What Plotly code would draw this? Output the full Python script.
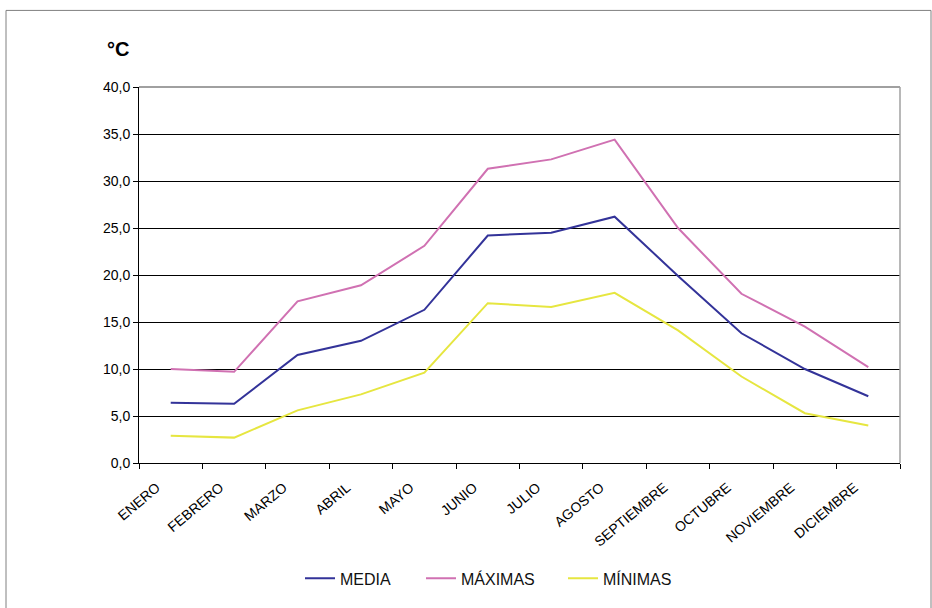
import plotly.graph_objects as go

meses = ["ENERO", "FEBRERO", "MARZO", "ABRIL", "MAYO", "JUNIO", "JULIO",
         "AGOSTO", "SEPTIEMBRE", "OCTUBRE", "NOVIEMBRE", "DICIEMBRE"]
media = [6.4, 6.3, 11.5, 13.0, 16.3, 24.2, 24.5, 26.2, 19.9, 13.8, 10.0, 7.1]
maximas = [10.0, 9.7, 17.2, 18.9, 23.1, 31.3, 32.3, 34.4, 25.0, 18.0, 14.5, 10.2]
minimas = [2.9, 2.7, 5.6, 7.3, 9.6, 17.0, 16.6, 18.1, 14.1, 9.2, 5.3, 4.0]

series = [("MEDIA", media, "#333399", "legend"),
          ("MÁXIMAS", maximas, "#d071b2", "legend2"),
          ("MÍNIMAS", minimas, "#e6e640", "legend3")]

FONT = "Liberation Sans, Arial, sans-serif"

fig = go.Figure()
for name, vals, col, lg in series:
    fig.add_trace(go.Scatter(x=meses, y=vals, name=name, mode="lines", legend=lg,
                             line=dict(color=col, width=2)))

W, H = 932, 608
L, R, T, B = 139, 32, 87, 143
pw, ph = W - L - R, H - T - B

def px(x):
    return (x - L) / pw

def py(y):
    return (H - B - y) / ph

def leg(xpix):
    return dict(orientation="h", x=px(xpix), xanchor="left", y=py(581), yanchor="middle",
                font=dict(size=16, family=FONT, color="#111111"),
                itemwidth=30, bgcolor="rgba(0,0,0,0)", borderwidth=0)

fig.update_layout(
    width=W, height=H,
    margin=dict(l=L, r=R, t=T, b=B),
    paper_bgcolor="white", plot_bgcolor="white",
    separators=",.",
    font=dict(family=FONT, size=14, color="#000000"),
    showlegend=True,
    legend=leg(300),
    legend2=leg(421),
    legend3=leg(563),
    xaxis=dict(type="category", showgrid=False, showline=True, linecolor="#000000", linewidth=1,
               ticks="outside", ticklen=5, tickcolor="#000000", tickson="boundaries",
               tickangle=-40, tickfont=dict(size=14, family=FONT), range=[-0.5, 11.5],
               ticklabelshift=-14, ticklabelstandoff=10,
               zeroline=False),
    yaxis=dict(range=[0, 40], dtick=5, tickformat=".1f", showgrid=True, gridcolor="#000000",
               gridwidth=1, showline=True, linecolor="#000000", linewidth=1,
               ticks="outside", ticklen=5, tickcolor="#000000", zeroline=False,
               tickfont=dict(size=14, family=FONT)),
    annotations=[dict(text="<b>°C</b>", x=px(118), y=py(49), xref="paper", yref="paper",
                      showarrow=False, font=dict(size=20, family=FONT, color="#000000"),
                      xanchor="center", yanchor="middle")],
    shapes=[
        dict(type="rect", xref="paper", yref="paper", x0=px(6), x1=px(931), y0=py(615), y1=py(10),
             line=dict(color="#808080", width=1), layer="below"),
        dict(type="line", xref="paper", yref="paper", x0=0, x1=1, y0=1, y1=1,
             line=dict(color="#808080", width=1.5), layer="above"),
        dict(type="line", xref="paper", yref="paper", x0=1, x1=1, y0=0, y1=1,
             line=dict(color="#a0a0a0", width=1.5), layer="above"),
    ],
)

fig.write_html("out.html", config={"displayModeBar": False},
               post_script="document.body.style.margin='0';document.body.style.padding='0';")
